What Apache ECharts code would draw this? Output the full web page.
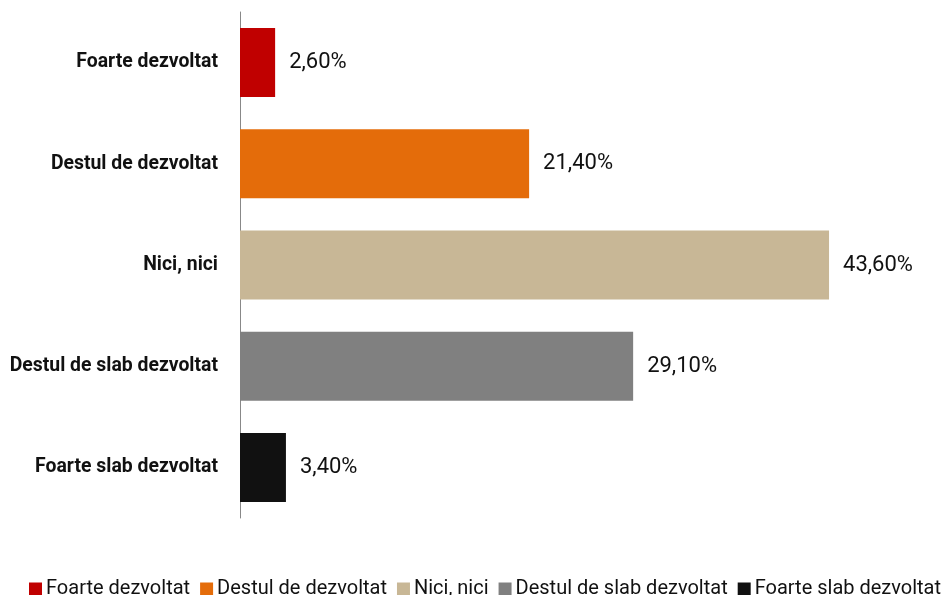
<!DOCTYPE html>
<html><head><meta charset="utf-8">
<script src="https://cdn.jsdelivr.net/npm/echarts@6/dist/echarts.min.js"></script>
<style>html,body{margin:0;padding:0;background:#fff}#c{width:944px;height:595px}</style>
</head><body><div id="c"></div>
<script>
const categories = ["Foarte dezvoltat", "Destul de dezvoltat", "Nici, nici", "Destul de slab dezvoltat", "Foarte slab dezvoltat"];
const values = [2.6, 21.4, 43.6, 29.1, 3.4];
const colors = ["#c00000", "#e46c0a", "#c8b796", "#808080", "#111111"];
const FONT = "'Liberation Sans Narrow', 'Arial Narrow', 'Roboto', sans-serif";

const series = categories.map((name, i) => ({
  name: name,
  type: 'bar',
  stack: 'all',
  barWidth: 69,
  itemStyle: { color: colors[i] },
  label: {
    show: true, position: 'right', distance: 14,
    fontFamily: FONT, fontSize: 22, color: '#111',
    formatter: p => p.value.toFixed(2).replace('.', ',') + '%'
  },
  data: categories.map((c, j) => j === i ? values[i] : '-')
}));

const chart = echarts.init(document.getElementById('c'));
chart.setOption({
  animation: false,
  grid: { left: 240, top: 12, bottom: 77, right: 28.5, containLabel: false },
  xAxis: { type: 'value', min: 0, max: 50, show: false },
  yAxis: {
    type: 'category', data: categories, inverse: true,
    axisLine: { show: true, lineStyle: { color: '#888', width: 1 } },
    axisTick: { show: false },
    axisLabel: { margin: 22, fontFamily: FONT, fontSize: 19.4, fontWeight: 'bold', color: '#111' }
  },
  legend: {
    top: 574, left: 29, width: 940, padding: [5, 0, 5, 0],
    icon: 'rect', itemWidth: 13, itemHeight: 13, itemGap: 10,
    textStyle: { fontFamily: FONT, fontSize: 20, color: '#111', padding: [0, 0, 0, -1] },
    data: categories
  },
  series: series
});
</script></body></html>
